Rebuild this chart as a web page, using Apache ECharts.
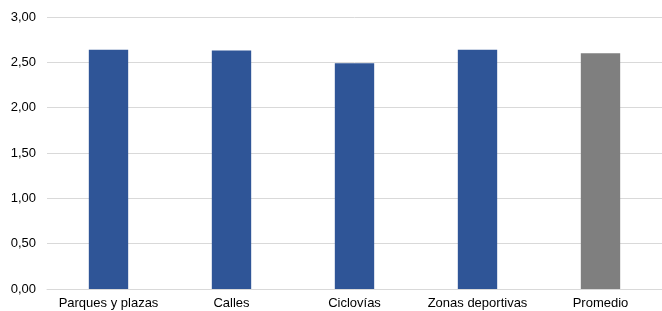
<!DOCTYPE html>
<html style="height: 100%">
<head>
  <meta charset="utf-8">
</head>
<body style="height: 100%; margin: 0">
  <div id="container" style="width: 662px; height: 311px"></div>

  <script type="text/javascript" src="https://cdn.jsdelivr.net/npm/echarts@6/dist/echarts.min.js"></script>

  <script type="text/javascript">
    var categories = ['Parques y plazas', 'Calles', 'Ciclovías', 'Zonas deportivas', 'Promedio'];
    var values = [2.64, 2.63, 2.49, 2.64, 2.60];
    var barColors = ['#2f5597', '#2f5597', '#2f5597', '#2f5597', '#7f7f7f'];

    var dom = document.getElementById('container');
    var myChart = echarts.init(dom, null, { renderer: 'canvas' });

    var option = {
      animation: false,
      grid: { left: 47, right: 0, top: 17, bottom: 22, containLabel: false },
      xAxis: {
        type: 'category',
        data: categories,
        axisTick: { show: false },
        axisLine: { lineStyle: { color: '#d9d9d9', width: 1 } },
        axisLabel: {
          color: '#000',
          fontFamily: 'Liberation Sans, Arial, sans-serif',
          fontSize: 13,
          margin: 8,
          interval: 0
        }
      },
      yAxis: {
        type: 'value',
        min: 0,
        max: 3,
        interval: 0.5,
        axisLine: { show: false },
        axisTick: { show: false },
        splitLine: { lineStyle: { color: '#d9d9d9', width: 1 } },
        axisLabel: {
          color: '#000',
          fontFamily: 'Liberation Sans, Arial, sans-serif',
          fontSize: 13,
          margin: 11,
          formatter: function (v) {
            return v.toFixed(2).replace('.', ',');
          }
        }
      },
      series: [
        {
          type: 'bar',
          barWidth: '32%',
          data: values.map(function (v, i) {
            return { value: v, itemStyle: { color: barColors[i] } };
          })
        }
      ]
    };

    myChart.setOption(option);
  </script>
</body>
</html>
